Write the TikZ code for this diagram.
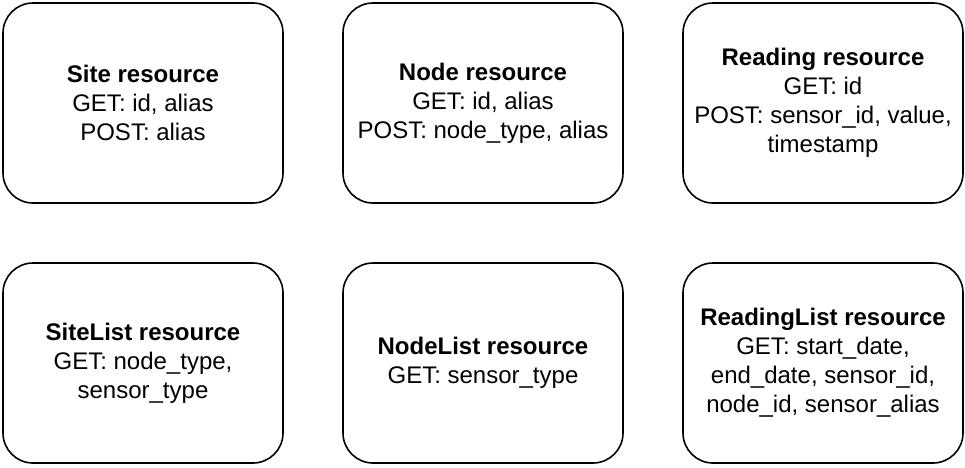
\documentclass[tikz,border=0pt]{standalone}
\usepackage{fontspec}
\setmainfont{Liberation Sans}
\usepackage{tikz}
\usetikzlibrary{positioning}

\begin{document}
\begin{tikzpicture}[
  x=1pt, y=-1pt,
  rnode/.style={draw=black, line width=1.6pt, rounded corners=30pt, minimum width=280pt, minimum height=200pt, inner sep=0pt, align=center, font=\fontsize{24}{29}\selectfont}
]
  \useasboundingbox (0, 0) rectangle (965, 467);

  % Single resources
  \node[rnode] (site) at (143, 103) {\textbf{Site resource}\\GET: id, alias\\POST: alias};
  \node[rnode] (node) at (483, 103) {\textbf{Node resource}\\GET: id, alias\\POST: node\_type, alias};
  \node[rnode] (reading) at (823, 103) {\textbf{Reading resource}\\GET: id\\POST: sensor\_id, value,\\timestamp};

  % List resources
  \node[rnode] (sitelist) at (143, 363) {\textbf{SiteList resource}\\GET: node\_type,\\sensor\_type};
  \node[rnode] (nodelist) at (483, 363) {\textbf{NodeList resource}\\GET: sensor\_type};
  \node[rnode] (readinglist) at (823, 363) {\textbf{ReadingList resource}\\GET: start\_date,\\end\_date, sensor\_id,\\node\_id, sensor\_alias};
\end{tikzpicture}
\end{document}
